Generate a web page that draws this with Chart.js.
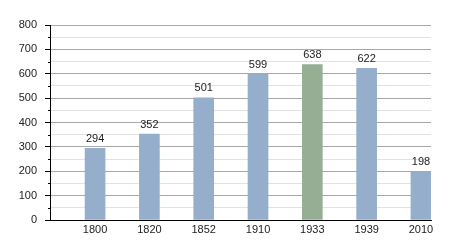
<!DOCTYPE html>
<html>
<head>
<meta charset="utf-8">
<script src="https://cdn.jsdelivr.net/npm/chart.js@4"></script>
<style>
  html, body { margin: 0; padding: 0; background: #fff; }
  #wrap { width: 450px; height: 250px; }
</style>
</head>
<body>
<div id="wrap"><canvas id="grafiku"></canvas></div>
<script>
// the data
var years = ["1800", "1820", "1852", "1910", "1933", "1939", "2010"];
var population = [294, 352, 501, 599, 638, 622, 198];
var barColors = ["#94aecb", "#94aecb", "#94aecb", "#94aecb", "#95ae94", "#94aecb", "#94aecb"];
var yTicks = [0, 100, 200, 300, 400, 500, 600, 700, 800];

// bars sit at index positions on a linear x scale
var points = population.map(function (v, i) { return { x: i, y: v }; });

// value labels above the bars + short minor ticks on the y axis
var extras = {
    id: "extras",
    afterDatasetsDraw: function (chart) {
        var ctx = chart.ctx;
        var meta = chart.getDatasetMeta(0);
        ctx.save();
        ctx.font = "11px 'Liberation Sans', Arial, sans-serif";
        ctx.fillStyle = "#222";
        ctx.textAlign = "center";
        ctx.textBaseline = "bottom";
        meta.data.forEach(function (bar, i) {
            ctx.fillText(population[i], bar.x, bar.y - 4);
        });
        var y = chart.scales.y;
        ctx.strokeStyle = "#000";
        ctx.lineWidth = 1;
        for (var v = 50; v < 800; v += 100) {
            var py = Math.round(y.getPixelForValue(v)) + 0.5;
            ctx.beginPath();
            ctx.moveTo(y.right - 2, py);
            ctx.lineTo(y.right, py);
            ctx.stroke();
        }
        ctx.restore();
    }
};

Chart.defaults.font.family = "'Liberation Sans', Arial, sans-serif";
Chart.defaults.font.size = 11;
Chart.defaults.color = "#222";

new Chart(document.getElementById("grafiku"), {
    type: "bar",
    data: {
        datasets: [{
            data: points,
            backgroundColor: barColors,
            borderWidth: 0,
            barThickness: 20
        }]
    },
    options: {
        responsive: true,
        maintainAspectRatio: false,
        animation: false,
        layout: { padding: { top: 25, right: 19, left: 0, bottom: 0 } },
        plugins: {
            legend: { display: false },
            tooltip: { enabled: false }
        },
        scales: {
            x: {
                type: "linear",
                offset: false,
                min: -0.83,
                max: 6.185,
                grid: { display: false, drawTicks: false },
                border: { color: "#000", width: 1 },
                afterBuildTicks: function (axis) {
                    axis.ticks = years.map(function (y, i) { return { value: i }; });
                },
                afterFit: function (axis) { axis.height = 30; },
                ticks: {
                    padding: 3,
                    maxRotation: 0,
                    autoSkip: false,
                    callback: function (v) { return years[v]; }
                }
            },
            y: {
                min: 0,
                max: 800,
                afterBuildTicks: function (axis) {
                    var t = [];
                    for (var v = 0; v <= 800; v += 50) t.push({ value: v });
                    axis.ticks = t;
                },
                afterFit: function (axis) { axis.width = 50; },
                grid: {
                    color: function (c) {
                        return c.tick && c.tick.value % 100 === 0 ? "#a8a8a8" : "#e2e2e2";
                    },
                    tickColor: function (c) {
                        return c.tick && c.tick.value % 100 === 0 ? "#000" : "rgba(0,0,0,0)";
                    },
                    tickLength: 5
                },
                border: { color: "#000", width: 1 },
                ticks: {
                    padding: 8,
                    autoSkip: false,
                    callback: function (v) { return yTicks.indexOf(v) >= 0 ? v : ""; }
                }
            }
        }
    },
    plugins: [extras]
});
</script>
</body>
</html>
